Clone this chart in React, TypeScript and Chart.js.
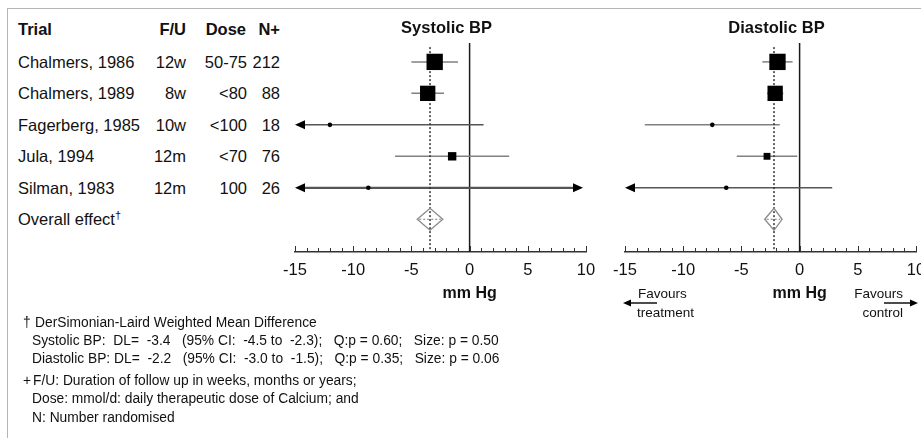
import React, { useEffect, useRef } from "react";
import { Chart, registerables } from "chart.js";

Chart.register(...registerables);

// ---------- data ----------
const trials = ["Chalmers, 1986", "Chalmers, 1989", "Fagerberg, 1985", "Jula, 1994", "Silman, 1983"];
const followUp = ["12w", "8w", "10w", "12m", "12m"];
const dose = ["50-75", "<80", "<100", "<70", "100"];
const nRandomised = ["212", "88", "18", "76", "26"];

const sysMean = [-3.0, -3.6, -12.0, -1.5, -8.7];
const sysLow = [-5.0, -5.0, -24.0, -6.4, -27.0];
const sysHigh = [-1.0, -2.2, 1.2, 3.4, 11.5];
const sysWeight = [34, 30, 1, 9, 1];
const sysOverall = [-3.4, -4.5, -2.3];

const diaMean = [-1.9, -2.1, -7.5, -2.8, -6.3];
const diaLow = [-3.2, -2.8, -13.3, -5.4, -17.0];
const diaHigh = [-0.6, -1.4, -1.7, -0.2, 2.8];
const diaWeight = [34, 30, 1, 6, 1];
const diaOverall = [-2.2, -3.0, -1.5];

const xMin = -15;
const xMax = 10;
const xStep = 5;

const footnotes = [
  "DerSimonian-Laird Weighted Mean Difference",
  "Systolic BP:  DL=  -3.4   (95% CI:  -4.5 to  -2.3);   Q:p = 0.60;   Size: p = 0.50",
  "Diastolic BP: DL=  -2.2   (95% CI:  -3.0 to  -1.5);   Q:p = 0.35;   Size: p = 0.06",
  "F/U: Duration of follow up in weeks, months or years;",
  "Dose: mmol/d: daily therapeutic dose of Calcium; and",
  "N: Number randomised",
];

// ---------- layout ----------
const W = 921;
const H = 438;
const CW = 1000; // canvas width (wider than page so edge labels are not squeezed)
const FONT = '"Liberation Sans", Arial, Helvetica, sans-serif';
const PLOT_TOP = 43;
const AXIS_Y = 252;
const Y_MIN = -0.6;
const Y_MAX = 6.04;
const ROW_PX = (AXIS_Y - PLOT_TOP) / (Y_MAX - Y_MIN);
const rowY = (i: number) => PLOT_TOP + (i - Y_MIN) * ROW_PX;

function sideFor(w: number) {
  return 2.8 * Math.sqrt(w);
}

function makePlugin(title: string, mean: number[], lo: number[], hi: number[], overall: number[], favours: boolean) {
  return {
    id: "forest-" + title,
    beforeDatasetsDraw(chart: any) {
      const { ctx, chartArea } = chart;
      const x = chart.scales.x;
      const y = chart.scales.y;
      ctx.save();
      // zero line
      const x0 = x.getPixelForValue(0);
      ctx.strokeStyle = "#1a1a1a";
      ctx.lineWidth = 1.5;
      ctx.beginPath();
      ctx.moveTo(x0, chartArea.top);
      ctx.lineTo(x0, chartArea.bottom);
      ctx.stroke();

      // confidence intervals
      const AL = 10;
      const AH = 4.5;
      mean.forEach((m, i) => {
        const py = y.getPixelForValue(i);
        const leftArrow = lo[i] < xMin;
        const rightArrow = hi[i] > xMax;
        const pl = x.getPixelForValue(Math.max(lo[i], xMin));
        const ph = x.getPixelForValue(Math.min(hi[i], xMax)) - (rightArrow ? 3 : 0);
        ctx.strokeStyle = leftArrow || rightArrow ? "#555" : "#808080";
        ctx.lineWidth = leftArrow && rightArrow ? 2.2 : 1.5;
        ctx.beginPath();
        ctx.moveTo(pl + (leftArrow ? AL - 1 : 0), py);
        ctx.lineTo(ph - (rightArrow ? AL - 1 : 0), py);
        ctx.stroke();
        ctx.fillStyle = "#000";
        if (leftArrow) {
          ctx.beginPath();
          ctx.moveTo(pl, py);
          ctx.lineTo(pl + AL, py - AH);
          ctx.lineTo(pl + AL, py + AH);
          ctx.closePath();
          ctx.fill();
        }
        if (rightArrow) {
          ctx.beginPath();
          ctx.moveTo(ph, py);
          ctx.lineTo(ph - AL, py - AH);
          ctx.lineTo(ph - AL, py + AH);
          ctx.closePath();
          ctx.fill();
        }
      });

      // overall effect dotted line
      const xo = x.getPixelForValue(overall[0]);
      ctx.setLineDash([2, 2]);
      ctx.strokeStyle = "#333";
      ctx.lineWidth = 1.5;
      ctx.beginPath();
      ctx.moveTo(xo, y.getPixelForValue(-0.47));
      ctx.lineTo(xo, chartArea.bottom);
      ctx.stroke();

      // diamond
      const yd = y.getPixelForValue(5);
      const xl = x.getPixelForValue(overall[1]);
      const xh = x.getPixelForValue(overall[2]);
      const hh = 11;
      ctx.setLineDash([]);
      ctx.strokeStyle = "#8a8a8a";
      ctx.lineWidth = 1.3;
      ctx.beginPath();
      ctx.moveTo(xl, yd);
      ctx.lineTo(xo, yd - hh);
      ctx.lineTo(xh, yd);
      ctx.lineTo(xo, yd + hh);
      ctx.closePath();
      ctx.stroke();
      ctx.setLineDash([2, 2]);
      ctx.strokeStyle = "#777";
      ctx.lineWidth = 1;
      ctx.beginPath();
      ctx.moveTo(xl + 2, yd);
      ctx.lineTo(xh - 2, yd);
      ctx.stroke();
      ctx.restore();
    },
    afterDraw(chart: any) {
      const { ctx, chartArea } = chart;
      const x = chart.scales.x;
      ctx.save();
      // upward tick marks
      ctx.strokeStyle = "#333";
      ctx.lineWidth = 1;
      for (let v = xMin; v <= xMax; v++) {
        const px = Math.round(x.getPixelForValue(v)) + 0.5;
        const len = v % xStep === 0 ? 6 : 4;
        ctx.beginPath();
        ctx.moveTo(px, chartArea.bottom);
        ctx.lineTo(px, chartArea.bottom - len);
        ctx.stroke();
      }
      // title
      ctx.fillStyle = "#111";
      ctx.textAlign = "center";
      ctx.textBaseline = "middle";
      ctx.font = `bold 16.5px ${FONT}`;
      ctx.fillText(title, (chartArea.left + chartArea.right) / 2 + 6, 28);
      // axis title
      ctx.font = `bold 16px ${FONT}`;
      ctx.fillText("mm Hg", x.getPixelForValue(0), 294);
      if (favours) {
        ctx.strokeStyle = "#111";
        ctx.fillStyle = "#000";
        ctx.lineWidth = 1.5;
        const ya = 303;
        const lt = x.getPixelForValue(xMin) - 2;
        ctx.beginPath();
        ctx.moveTo(lt + 6, ya);
        ctx.lineTo(lt + 34, ya);
        ctx.stroke();
        ctx.beginPath();
        ctx.moveTo(lt, ya);
        ctx.lineTo(lt + 8, ya - 3.5);
        ctx.lineTo(lt + 8, ya + 3.5);
        ctx.closePath();
        ctx.fill();
        const rt = x.getPixelForValue(xMax) + 2;
        ctx.beginPath();
        ctx.moveTo(rt - 34, ya);
        ctx.lineTo(rt - 6, ya);
        ctx.stroke();
        ctx.beginPath();
        ctx.moveTo(rt, ya);
        ctx.lineTo(rt - 8, ya - 3.5);
        ctx.lineTo(rt - 8, ya + 3.5);
        ctx.closePath();
        ctx.fill();
      }
      ctx.restore();
    },
  };
}

function ForestChart(props: {
  left: number;
  right: number;
  title: string;
  mean: number[];
  lo: number[];
  hi: number[];
  weight: number[];
  overall: number[];
  favours: boolean;
}) {
  const ref = useRef<HTMLCanvasElement | null>(null);
  useEffect(() => {
    if (!ref.current) return;
    const { left, right, title, mean, lo, hi, weight, overall, favours } = props;
    const sides = weight.map(sideFor);
    const chart = new Chart(ref.current, {
      type: "scatter",
      data: {
        datasets: [
          {
            data: mean.map((m, i) => ({ x: m, y: i })),
            pointStyle: sides.map((s) => (s < 4 ? "circle" : "rect")) as any,
            pointRadius: sides.map((s) => (s < 4 ? 2.3 : s / (2 * Math.SQRT1_2))),
            backgroundColor: "#000",
            borderColor: "#000",
            borderWidth: 0,
          },
        ],
      },
      options: {
        animation: false,
        responsive: false,
        events: [],
        layout: {
          padding: { left, right: CW - right, top: PLOT_TOP, bottom: H - AXIS_Y - 40 },
        },
        plugins: { legend: { display: false }, tooltip: { enabled: false } },
        scales: {
          x: {
            type: "linear",
            min: xMin,
            max: xMax,
            grid: { display: false, drawTicks: false },
            border: { display: true, color: "#333", width: 1.5 },
            ticks: {
              stepSize: xStep,
              color: "#111",
              font: { family: FONT, size: 16.5 },
              padding: 9,
              maxRotation: 0,
              autoSkip: false,
            },
            afterFit: (s: any) => {
              s.height = 40;
            },
          },
          y: { type: "linear", min: Y_MIN, max: Y_MAX, reverse: true, display: false },
        },
      },
      plugins: [makePlugin(title, mean, lo, hi, overall, favours)],
    });
    return () => chart.destroy();
  }, []);
  return (
    <canvas
      ref={ref}
      width={CW}
      height={H}
      style={{ position: "absolute", left: 0, top: 0, width: CW, height: H }}
    />
  );
}

function T(props: { x: number; y: number; size?: number; bold?: boolean; align?: "left" | "right"; children: any }) {
  const size = props.size ?? 16.5;
  const lh = Math.round(size * 1.2);
  const style: any = {
    position: "absolute",
    top: props.y - lh / 2,
    height: lh,
    lineHeight: lh + "px",
    fontFamily: FONT,
    fontSize: size,
    fontWeight: props.bold ? "bold" : "normal",
    color: "#111",
    whiteSpace: "pre",
  };
  if (props.align === "right") {
    style.left = props.x - 300;
    style.width = 300;
    style.textAlign = "right";
  } else {
    style.left = props.x;
  }
  return <div style={style}>{props.children}</div>;
}

export default function App() {
  const fs = 13.8;
  return (
    <div style={{ position: "absolute", left: 0, top: 0, width: W, height: H, background: "#fff", overflow: "hidden" }}>
      <div style={{ position: "absolute", left: 7, top: 8, width: W, height: 0, borderTop: "1.5px solid #b5b5b5" }} />
      <div style={{ position: "absolute", left: 7, top: 8, width: 0, height: H, borderLeft: "1.5px solid #b5b5b5" }} />

      <T x={18} y={29} bold>Trial</T>
      <T x={186} y={29} bold align="right">F/U</T>
      <T x={246} y={29} bold align="right">Dose</T>
      <T x={280} y={29} bold align="right">N+</T>
      {trials.map((t, i) => (
        <React.Fragment key={t}>
          <T x={18} y={rowY(i)}>{t}</T>
          <T x={186} y={rowY(i)} align="right">{followUp[i]}</T>
          <T x={247} y={rowY(i)} align="right">{dose[i]}</T>
          <T x={280} y={rowY(i)} align="right">{nRandomised[i]}</T>
        </React.Fragment>
      ))}
      <T x={18} y={rowY(5)}>
        Overall effect<sup style={{ fontSize: 11, lineHeight: 0 }}>†</sup>
      </T>

      <ForestChart left={295} right={586} title="Systolic BP" mean={sysMean} lo={sysLow} hi={sysHigh} weight={sysWeight} overall={sysOverall} favours={false} />
      <ForestChart left={625} right={916} title="Diastolic BP" mean={diaMean} lo={diaLow} hi={diaHigh} weight={diaWeight} overall={diaOverall} favours={true} />

      <T x={638} y={294} size={13.5}>Favours</T>
      <T x={637} y={313} size={13.5}>treatment</T>
      <T x={903} y={294} size={13.5} align="right">Favours</T>
      <T x={903} y={313} size={13.5} align="right">control</T>

      <T x={23} y={322} size={fs}>†</T>
      <T x={35} y={322} size={fs}>{footnotes[0]}</T>
      <T x={32} y={340} size={fs}>{footnotes[1]}</T>
      <T x={32} y={358} size={fs}>{footnotes[2]}</T>
      <T x={23} y={380} size={fs}>+</T>
      <T x={33} y={380} size={fs}>{footnotes[3]}</T>
      <T x={32} y={398} size={fs}>{footnotes[4]}</T>
      <T x={32} y={417} size={fs}>{footnotes[5]}</T>
    </div>
  );
}
